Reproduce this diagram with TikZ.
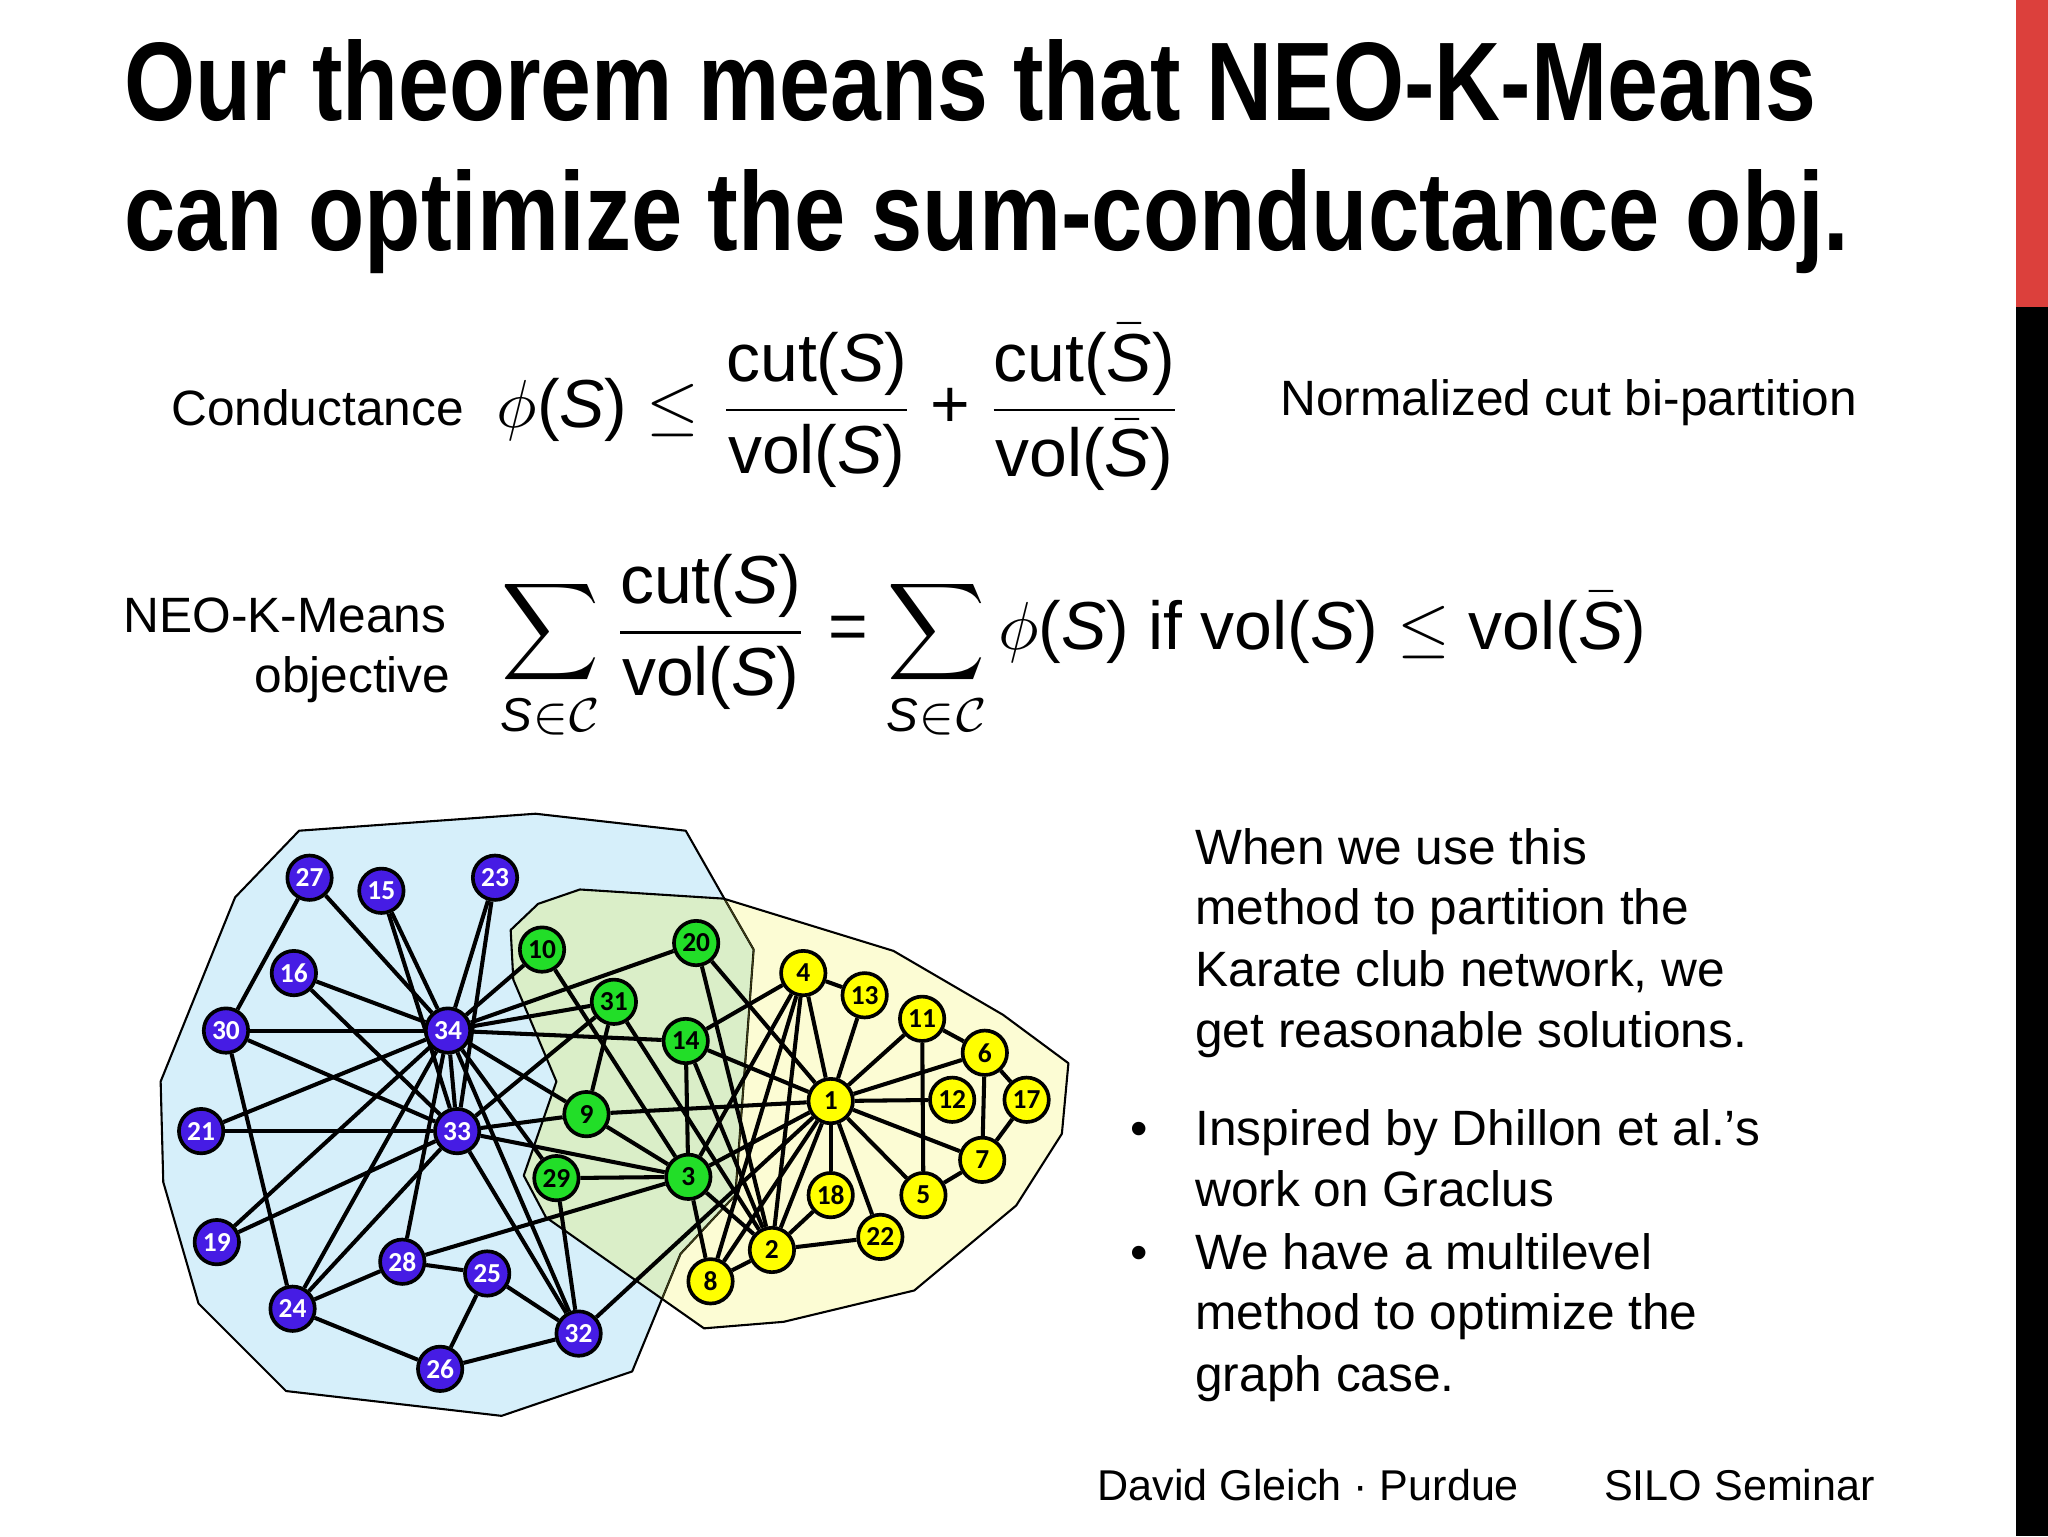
\documentclass[tikz,border=0pt]{standalone}
\usepackage{amsmath}
\usepackage{fontspec}
\setmainfont{Liberation Sans}
\newfontfamily\nodefont{Carlito}
\pgfdeclarelayer{paper}
\pgfdeclarelayer{bg}
\pgfdeclarelayer{edges}
\pgfsetlayers{paper,bg,edges,main}
\definecolor{barred}{RGB}{220,64,60}
\definecolor{nodeblue}{RGB}{70,28,228}
\definecolor{nodegreen}{RGB}{34,222,40}
\definecolor{nodeyellow}{RGB}{255,255,0}
\definecolor{bluefill}{RGB}{214,239,250}
\definecolor{yellowfill}{RGB}{252,252,212}
\definecolor{overfill}{RGB}{218,238,200}
\definecolor{olivedge}{RGB}{60,60,20}
\newcommand\fmbox[1]{\scalebox{5.2}{\fontsize{10}{12}\selectfont #1}}
\newcommand\bt{\fontsize{38}{46}\selectfont}
\newcommand\ft{\fontsize{33}{40}\selectfont}
\newcommand\iS{\text{\textit{S}}}
\newcommand\tplus{\mathbin{\text{+}}}
\newcommand\teq{\mathrel{\text{=}}}
\begin{document}
\begin{tikzpicture}[x=1pt,y=-1pt,
  vtx/.style={circle,draw=black,line width=2.8pt,minimum size=34pt,inner sep=0pt,font=\nodefont\bfseries\fontsize{21}{21}\selectfont},
  vb/.style={vtx,fill=nodeblue,text=white},
  vg/.style={vtx,fill=nodegreen,text=black},
  vy/.style={vtx,fill=nodeyellow,text=black},
  lnk/.style={line width=3.1pt,black},
  polyline/.style={line width=1.6pt,black,line join=round},
  txt/.style={inner sep=0pt,font=\bt},
  fmla/.style={inner sep=0pt}]
\useasboundingbox (0,0) rectangle (1568,1176);
\begin{pgfonlayer}{paper}
\fill[white] (0,0) rectangle (1568,1176);
\end{pgfonlayer}
\fill[barred] (1543.5,0) rectangle (1568,235);
\fill[black] (1543.5,235) rectangle (1568,1176);

% title
\node[anchor=base west,inner sep=0pt] (t1) at (95,92) {\resizebox{1295pt}{62pt}{\bfseries Our theorem means that NEO-K-Means}};
\node[anchor=base west,inner sep=0pt] (t2) at (95,192) {\resizebox{1320pt}{62pt}{\bfseries can optimize the sum-conductance obj.}};

% formulas
\node[txt,anchor=base west] (cond) at (131,326) {Conductance};
\node[fmla,anchor=base west] (f1) at (380,327) {\fmbox{$\phi\text{(\textit{S})}\leq\dfrac{\text{cut(\textit{S})}}{\text{vol(\textit{S})}}\tplus\dfrac{\text{cut(}\bar{\iS}\text{)}}{\text{vol(}\bar{\iS}\text{)}}$}};
\node[txt,anchor=base west] (ncut) at (980,318) {Normalized cut bi-partition};
\node[txt,anchor=base east] (neo) at (342,484) {NEO-K-Means};
\node[txt,anchor=base east] (obj) at (345,530) {objective};
\node[fmla,anchor=base west] (f2) at (383,497) {\fmbox{$\displaystyle\sum_{\iS\in\mathcal{C}}\dfrac{\text{cut(\textit{S})}}{\text{vol(\textit{S})}}\teq\sum_{\iS\in\mathcal{C}}\phi\text{(\textit{S}) if vol(\textit{S})}\leq\text{vol(}\bar{\iS}\text{)}$}};

% right text
\node[txt,anchor=base west] (p1) at (915,662) {When we use this};
\node[txt,anchor=base west] (p2) at (915,708) {method to partition the};
\node[txt,anchor=base west] (p3) at (915,755) {Karate club network, we};
\node[txt,anchor=base west] (p4) at (915,802) {get reasonable solutions.};
\node[txt,anchor=base west] (b1) at (865,877) {•};
\node[txt,anchor=base west] (q1) at (915,877) {Inspired by Dhillon et al.’s};
\node[txt,anchor=base west] (q2) at (915,924) {work on Graclus};
\node[txt,anchor=base west] (b2) at (865,972) {•};
\node[txt,anchor=base west] (q3) at (915,972) {We have a multilevel};
\node[txt,anchor=base west] (q4) at (915,1018) {method to optimize the};
\node[txt,anchor=base west] (q5) at (915,1065) {graph case.};

% footer
\node[inner sep=0pt,font=\ft,anchor=base west] (foot1) at (840,1149) {David Gleich · Purdue};
\node[inner sep=0pt,font=\ft,anchor=base west] (foot2) at (1228,1149) {SILO Seminar};

% regions
\begin{pgfonlayer}{bg}
\fill[bluefill] (229,636) -- (410,623) -- (525,636) -- (554,687) -- (577,727) -- (563,915) -- (521,960) -- (484,1050) -- (384,1084) -- (219,1065) -- (152,998) -- (125,905) -- (123,828) -- (180,687) -- cycle;
\fill[yellowfill] (391,712) -- (412,692) -- (444,681) -- (554,688) -- (684,728) -- (768,777) -- (818,814) -- (813,868) -- (778,923) -- (700,988) -- (600,1012) -- (539,1017) -- (418,932) -- (401,900) -- (426,828) -- (393,750) -- cycle;
\begin{scope}
\clip (229,636) -- (410,623) -- (525,636) -- (554,687) -- (577,727) -- (563,915) -- (521,960) -- (484,1050) -- (384,1084) -- (219,1065) -- (152,998) -- (125,905) -- (123,828) -- (180,687) -- cycle;
\fill[overfill] (391,712) -- (412,692) -- (444,681) -- (554,688) -- (684,728) -- (768,777) -- (818,814) -- (813,868) -- (778,923) -- (700,988) -- (600,1012) -- (539,1017) -- (418,932) -- (401,900) -- (426,828) -- (393,750) -- cycle;
\end{scope}
\draw[polyline] (229,636) -- (410,623) -- (525,636) -- (554,687) -- (577,727) -- (563,915) -- (521,960) -- (484,1050) -- (384,1084) -- (219,1065) -- (152,998) -- (125,905) -- (123,828) -- (180,687) -- cycle;
\begin{scope}
\clip (391,712) -- (412,692) -- (444,681) -- (554,688) -- (684,728) -- (768,777) -- (818,814) -- (813,868) -- (778,923) -- (700,988) -- (600,1012) -- (539,1017) -- (418,932) -- (401,900) -- (426,828) -- (393,750) -- cycle;
\draw[polyline,draw=olivedge,line width=1pt] (229,636) -- (410,623) -- (525,636) -- (554,687) -- (577,727) -- (563,915) -- (521,960) -- (484,1050) -- (384,1084) -- (219,1065) -- (152,998) -- (125,905) -- (123,828) -- (180,687) -- cycle;
\end{scope}
\draw[polyline] (391,712) -- (412,692) -- (444,681) -- (554,688) -- (684,728) -- (768,777) -- (818,814) -- (813,868) -- (778,923) -- (700,988) -- (600,1012) -- (539,1017) -- (418,932) -- (401,900) -- (426,828) -- (393,750) -- cycle;
\end{pgfonlayer}

% nodes
\node[vy] (n1) at (636,843) {1};
\node[vy] (n2) at (591,957) {2};
\node[vg] (n3) at (527,901) {3};
\node[vy] (n4) at (615,745) {4};
\node[vy] (n5) at (707,915) {5};
\node[vy] (n6) at (754,806) {6};
\node[vy] (n7) at (752,888) {7};
\node[vy] (n8) at (544,981) {8};
\node[vg] (n9) at (449,853) {9};
\node[vg] (n10) at (415,727) {10};
\node[vy] (n11) at (706,780) {11};
\node[vy] (n12) at (729,842) {12};
\node[vy] (n13) at (662,762) {13};
\node[vg] (n14) at (525,797) {14};
\node[vb] (n15) at (292,682) {15};
\node[vb] (n16) at (225,745) {16};
\node[vy] (n17) at (786,842) {17};
\node[vy] (n18) at (636,915) {18};
\node[vb] (n19) at (166,951) {19};
\node[vg] (n20) at (533,722) {20};
\node[vb] (n21) at (154,866) {21};
\node[vy] (n22) at (674,947) {22};
\node[vb] (n23) at (379,672) {23};
\node[vb] (n24) at (224,1002) {24};
\node[vb] (n25) at (373,975) {25};
\node[vb] (n26) at (337,1048) {26};
\node[vb] (n27) at (237,672) {27};
\node[vb] (n28) at (308,966) {28};
\node[vg] (n29) at (426,902) {29};
\node[vb] (n30) at (173,789) {30};
\node[vg] (n31) at (470,767) {31};
\node[vb] (n32) at (443,1021) {32};
\node[vb] (n33) at (350,866) {33};
\node[vb] (n34) at (343,789) {34};

\begin{pgfonlayer}{edges}
\foreach \a/\b in {1/2,1/3,1/4,1/5,1/6,1/7,1/8,1/9,1/11,1/12,1/13,1/14,1/18,1/20,1/22,1/32,
  2/3,2/4,2/8,2/14,2/18,2/20,2/22,2/31,
  3/4,3/8,3/9,3/10,3/14,3/28,3/29,3/33,
  4/8,4/13,4/14,5/7,5/11,6/7,6/11,6/17,7/17,
  9/31,9/33,9/34,10/34,14/34,15/33,15/34,16/33,16/34,19/33,19/34,20/34,21/33,21/34,23/33,23/34,
  24/26,24/28,24/30,24/33,24/34,25/26,25/28,25/32,26/32,27/30,27/34,28/34,29/32,29/34,
  30/33,30/34,31/33,31/34,32/33,32/34,33/34}
  \draw[lnk] (n\a) -- (n\b);
\end{pgfonlayer}
\end{tikzpicture}
\end{document}
